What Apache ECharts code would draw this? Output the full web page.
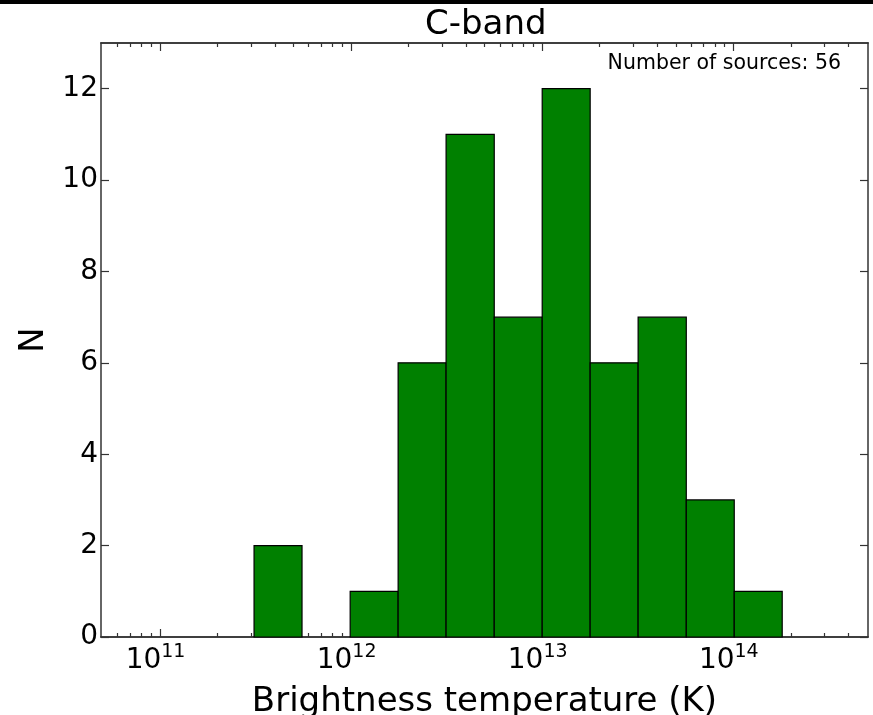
<!DOCTYPE html>
<html><head><meta charset="utf-8">
<script src="https://cdn.jsdelivr.net/npm/echarts@6/dist/echarts.min.js"></script>
<style>html,body{margin:0;padding:0;background:#fff}#chart{width:873px;height:715px}</style>
</head><body><div id="chart"></div>
<script>
// ---- data ----
const titleText = 'C-band';
const xLabel = 'Brightness temperature (K)';
const yLabel = 'N';
const annotation = 'Number of sources: 56';
// histogram bin edges, log10(T_b / K)
const binEdgesLog = [11.492, 11.743, 11.995, 12.246, 12.497, 12.749, 13.000, 13.251, 13.502, 13.754, 14.005, 14.256];
const counts = [2, 0, 1, 6, 11, 7, 12, 6, 7, 3, 1];
const xMajorTicks = [11, 12, 13, 14];
const yTicks = [0, 2, 4, 6, 8, 10, 12];
const xRange = [10.691, 14.705];
const yRange = [0, 13];
const minorMultipliers = [2, 3, 4, 5, 6, 7, 8, 9];
const decades = [10, 11, 12, 13, 14];

// ---- build ----
const FONT = 'DejaVu Sans';
const AX = '#333';
const minorTicks = [];
decades.forEach(d => minorMultipliers.forEach(k => {
  const v = d + Math.log10(k);
  if (v > xRange[0] + 0.01 && v < xRange[1] - 0.01) minorTicks.push(v);
}));
const bars = counts.map((c, i) => [binEdgesLog[i], binEdgesLog[i + 1], c]);

function xAxisDef(pos, ticks, len, labels) {
  return {
    type: 'value', position: pos, min: xRange[0], max: xRange[1],
    axisLine: { show: true, onZero: false, lineStyle: { color: AX, width: 1.5 } },
    axisTick: { show: true, inside: true, length: len, customValues: ticks, lineStyle: { color: AX, width: 1.2 } },
    axisLabel: labels ? {
      show: true, margin: 6, customValues: xMajorTicks, padding: [0, 9, 0, 0],
      formatter: v => '{b|10}{s|' + Math.round(v) + '}',
      rich: {
        b: { fontFamily: FONT, fontSize: 28, color: '#000', lineHeight: 36 },
        s: { fontFamily: FONT, fontSize: 19, color: '#000', verticalAlign: 'top', lineHeight: 24 }
      }
    } : { show: false },
    splitLine: { show: false }
  };
}

const chart = echarts.init(document.getElementById('chart'), null, { renderer: 'canvas' });
chart.setOption({
  backgroundColor: '#fff',
  animation: false,
  title: [
    { text: titleText, left: 425, top: 8, padding: 0,
      textStyle: { fontFamily: FONT, fontSize: 34, fontWeight: 'normal', color: '#000' } },
    { text: annotation, right: 32, top: 53, padding: 0,
      textStyle: { fontFamily: FONT, fontSize: 20.5, fontWeight: 'normal', color: '#000' } }
  ],
  graphic: [{ type: 'rect', left: 0, top: 0, shape: { width: 873, height: 4 }, style: { fill: '#000' } }],
  grid: { left: 101, right: 5, top: 43, bottom: 78, containLabel: false, outerBoundsMode: 'none' },
  xAxis: [
    Object.assign(xAxisDef('bottom', xMajorTicks, 8, true), {
      name: xLabel, nameLocation: 'middle', nameGap: 48,
      nameTextStyle: { fontFamily: FONT, fontSize: 34, color: '#000' }
    }),
    xAxisDef('bottom', minorTicks, 4, false),
    xAxisDef('top', xMajorTicks, 8, false),
    xAxisDef('top', minorTicks, 4, false)
  ],
  yAxis: [
    {
      type: 'value', position: 'left', min: yRange[0], max: yRange[1],
      name: yLabel, nameLocation: 'middle', nameGap: 45,
      nameTextStyle: { fontFamily: FONT, fontSize: 34, color: '#000' },
      axisLine: { show: true, lineStyle: { color: AX, width: 1.5 } },
      axisTick: { show: true, inside: true, length: 8, customValues: yTicks, lineStyle: { color: AX, width: 1.2 } },
      axisLabel: { show: true, customValues: yTicks, margin: 3, fontFamily: FONT, fontSize: 28, color: '#000' },
      splitLine: { show: false }
    },
    {
      type: 'value', position: 'right', min: yRange[0], max: yRange[1],
      axisLine: { show: true, lineStyle: { color: AX, width: 1.5 } },
      axisTick: { show: true, inside: true, length: 8, customValues: yTicks, lineStyle: { color: AX, width: 1.2 } },
      axisLabel: { show: false },
      splitLine: { show: false }
    }
  ],
  series: [{
    type: 'custom',
    xAxisIndex: 0, yAxisIndex: 0,
    data: bars,
    encode: { x: [0, 1], y: 2 },
    renderItem: (params, api) => {
      const h = api.value(2);
      if (h <= 0) return null;
      const p0 = api.coord([api.value(0), h]);
      const p1 = api.coord([api.value(1), 0]);
      return {
        type: 'rect',
        shape: { x: p0[0], y: p0[1], width: p1[0] - p0[0], height: p1[1] - p0[1] },
        style: { fill: '#008000', stroke: '#000', lineWidth: 1.2 }
      };
    }
  }]
});
</script></body></html>
